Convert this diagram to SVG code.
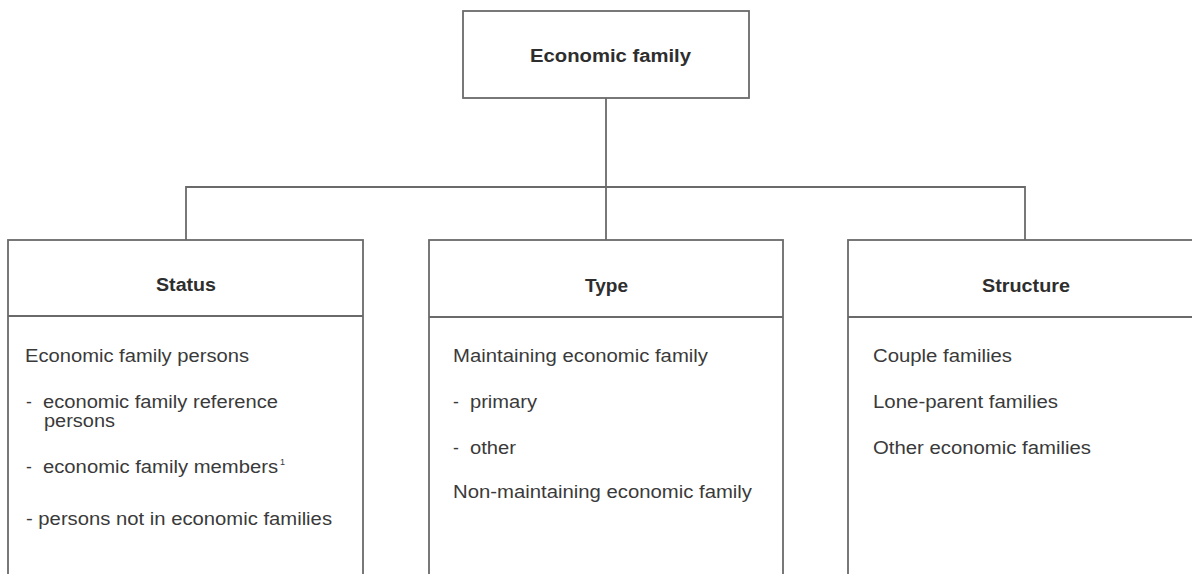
<svg xmlns="http://www.w3.org/2000/svg" width="1192" height="574" viewBox="0 0 1192 574">
<style>
.box{fill:#fff;stroke:#6a6a6a;stroke-width:1.8}
.ln{fill:none;stroke:#6a6a6a;stroke-width:1.8}
.t{font-family:"Liberation Sans",Arial,sans-serif;font-size:17.5px;fill:#3a3a3a}
.b{font-weight:bold;fill:#2e2e2e}
.sup{font-family:"Liberation Sans",Arial,sans-serif;font-size:9px;fill:#3a3a3a}
</style>
<rect width="1192" height="574" fill="#fff"/>
<g id="connectors">
<path class="ln" d="M606 98 V187 M186 240 V187 H1025 V240 M606 187 V240"/>
</g>
<g id="economic-family">
<rect class="box" x="463" y="11" width="286" height="87"/>
<text class="t b" x="530" y="62" textLength="161" lengthAdjust="spacingAndGlyphs">Economic family</text>
</g>
<g id="status">
<rect class="box" x="8" y="240" width="355" height="345"/>
<line class="ln" x1="8" y1="316" x2="363" y2="316"/>
<text class="t b" x="156" y="291" textLength="60" lengthAdjust="spacingAndGlyphs">Status</text>
<text class="t" x="25" y="362" textLength="224" lengthAdjust="spacingAndGlyphs">Economic family persons</text>
<text class="t" x="26" y="408">-</text>
<text class="t" x="43" y="408" textLength="235" lengthAdjust="spacingAndGlyphs">economic family reference</text>
<text class="t" x="44" y="427" textLength="71" lengthAdjust="spacingAndGlyphs">persons</text>
<text class="t" x="26" y="473">-</text>
<text class="t" x="43" y="473" textLength="235" lengthAdjust="spacingAndGlyphs">economic family members</text>
<text class="sup" x="280" y="465">1</text>
<text class="t" x="26" y="525" textLength="306" lengthAdjust="spacingAndGlyphs">- persons not in economic families</text>
</g>
<g id="type">
<rect class="box" x="429" y="240" width="354" height="345"/>
<line class="ln" x1="429" y1="317" x2="783" y2="317"/>
<text class="t b" x="585" y="292" textLength="43" lengthAdjust="spacingAndGlyphs">Type</text>
<text class="t" x="453" y="362" textLength="255" lengthAdjust="spacingAndGlyphs">Maintaining economic family</text>
<text class="t" x="453" y="408">-</text>
<text class="t" x="470" y="408" textLength="67" lengthAdjust="spacingAndGlyphs">primary</text>
<text class="t" x="453" y="454">-</text>
<text class="t" x="470" y="454" textLength="46" lengthAdjust="spacingAndGlyphs">other</text>
<text class="t" x="453" y="498" textLength="299" lengthAdjust="spacingAndGlyphs">Non-maintaining economic family</text>
</g>
<g id="structure">
<rect class="box" x="848" y="240" width="360" height="345"/>
<line class="ln" x1="848" y1="317" x2="1208" y2="317"/>
<text class="t b" x="982" y="292" textLength="88" lengthAdjust="spacingAndGlyphs">Structure</text>
<text class="t" x="873" y="362" textLength="139" lengthAdjust="spacingAndGlyphs">Couple families</text>
<text class="t" x="873" y="408" textLength="185" lengthAdjust="spacingAndGlyphs">Lone-parent families</text>
<text class="t" x="873" y="454" textLength="218" lengthAdjust="spacingAndGlyphs">Other economic families</text>
</g>
</svg>
